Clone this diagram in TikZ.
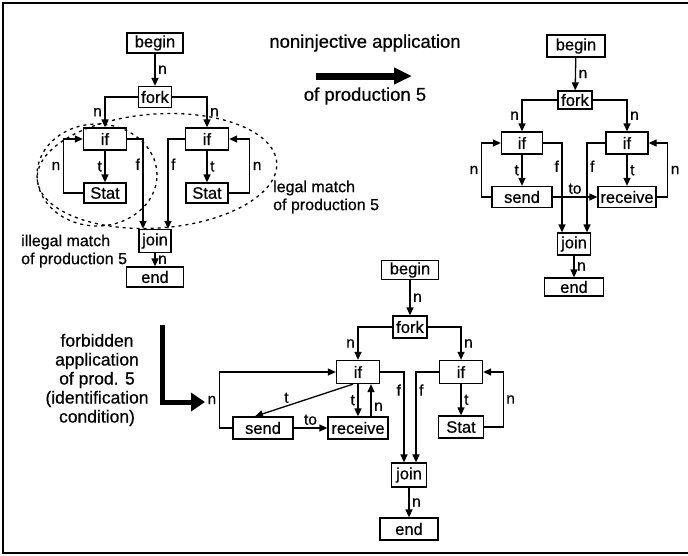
\documentclass[tikz,border=0pt]{standalone}
\usepackage{fontspec}
\setmainfont{Liberation Sans}[FakeBold=0.6]
\usetikzlibrary{arrows.meta}
\tikzset{
  cf box/.style={
    rectangle, draw=black, line width=1.3pt,
    minimum height=21pt, inner sep=1pt,
    font=\fontsize{16.5}{18}\selectfont
  },
  cf edge/.style={
    -{Triangle[length=8pt,width=7pt]}, line width=1.3pt
  },
  cf label/.style={
    font=\fontsize{15.5}{17}\selectfont, inner sep=2.5pt
  },
  cf note/.style={
    font=\fontsize{16}{18}\selectfont, inner sep=0pt
  },
  cf match/.style={
    dash pattern=on 3pt off 4pt, line width=1.3pt
  },
  cf big/.style={
    -{Triangle[length=18pt,width=16pt]}, line width=7pt
  }
}

\begin{document}
\begin{tikzpicture}[x=1pt, y=-1pt]
  \useasboundingbox (0,0) rectangle (688,555);
  \draw [line width=1.5pt] (688,3) -- (3,3) -- (3,553) -- (688,553);

  % Graph 1: two matches of production 5
  \node (beginA) [cf box, minimum width=56pt, minimum height=20pt] at (155,43) {begin};
  \node (forkA) [cf box, minimum width=33pt] at (155,97) {fork};
  \node (ifLA) [cf box, minimum width=43pt, minimum height=22pt] at (105,139) {if};
  \node (ifRA) [cf box, minimum width=43pt, minimum height=22pt] at (207,139) {if};
  \node (statLA) [cf box, minimum width=42pt, minimum height=20pt] at (105,193) {Stat};
  \node (statRA) [cf box, minimum width=42pt, minimum height=20pt] at (207,193) {Stat};
  \node (joinA) [cf box, minimum width=32pt, minimum height=23pt] at (155,241) {join};
  \node (endA) [cf box, minimum width=57pt, minimum height=20pt] at (155,277) {end};

  \draw [cf edge] (beginA) -- node[cf label, right] {n} (forkA);
  \draw [cf edge] (forkA.west) -| node[cf label, pos=0.75, left] {n} (ifLA.north);
  \draw [cf edge] (forkA.east) -| node[cf label, pos=0.75, right] {n} (ifRA.north);
  \draw [cf edge] (ifLA) -- node[cf label, left] {t} (statLA);
  \draw [cf edge] (ifRA) -- node[cf label, right] {t} (statRA);
  \draw [cf edge] (statLA.west) -- ++(-20,0) |- node[cf label, pos=0.25, left] {n} (ifLA.west);
  \draw [cf edge] (statRA.east) -- ++(21,0) |- node[cf label, pos=0.25, right] {n} (ifRA.east);
  \draw [cf edge] (ifLA.east) -| node[cf label, pos=0.64, left] {f} ([xshift=-12pt]joinA.north);
  \draw [cf edge] (ifRA.west) -| node[cf label, pos=0.64, right] {f} ([xshift=13pt]joinA.north);
  \draw [cf edge] (joinA) -- node[cf label, right] {n} (endA);

  \draw [cf match] (97,175) ellipse [x radius=60pt, y radius=51pt];
  \draw [cf match, rotate around={4:(157,171)}] (157,171) ellipse [x radius=120pt, y radius=57pt];
  \node (illegalA) [cf note, align=left, anchor=west] at (21,251) {illegal match\\of production 5};
  \node (legalA) [cf note, align=left, anchor=west] at (273,197) {legal match\\of production 5};

  % noninjective application
  \coordinate (apA) at (316,76);
  \coordinate (apB) at (412,76);
  \draw [cf big] (apA) -- (apB);
  \node (apTop) [cf note, font=\fontsize{18.5}{20}\selectfont] at (365,43) {noninjective application};
  \node (apBot) [cf note, font=\fontsize{18.5}{20}\selectfont] at (365,96) {of production 5};

  % Graph 2: result of the application
  \node (beginB) [cf box, minimum width=58pt, minimum height=22pt] at (576,46) {begin};
  \node (forkB) [cf box, minimum width=34pt, minimum height=18pt] at (575,100) {fork};
  \node (ifLB) [cf box, minimum width=41pt, minimum height=22pt] at (522,143) {if};
  \node (ifRB) [cf box, minimum width=42pt, minimum height=22pt] at (627,143) {if};
  \node (sendB) [cf box, minimum width=60pt] at (522,197) {send};
  \node (recvB) [cf box, minimum width=58pt] at (627,197) {receive};
  \node (joinB) [cf box, minimum width=33pt, minimum height=22pt] at (574,244) {join};
  \node (endB) [cf box, minimum width=59pt, minimum height=18pt] at (574,287) {end};

  \draw [cf edge] (beginB) -- node[cf label, right] {n} (forkB);
  \draw [cf edge] (forkB.west) -| node[cf label, pos=0.75, left] {n} (ifLB.north);
  \draw [cf edge] (forkB.east) -| node[cf label, pos=0.75, right] {n} (ifRB.north);
  \draw [cf edge] (ifLB) -- node[cf label, left] {t} (sendB);
  \draw [cf edge] (ifRB) -- node[cf label, right] {t} (recvB);
  \draw [cf edge] (sendB.west) -- ++(-10,0) |- node[cf label, pos=0.25, left] {n} (ifLB.west);
  \draw [cf edge] (recvB.east) -- ++(11,0) |- node[cf label, pos=0.25, right] {n} (ifRB.east);
  \draw [cf edge] (ifLB.east) -| node[cf label, pos=0.63, left] {f} ([xshift=-12pt]joinB.north);
  \draw [cf edge] (ifRB.west) -| node[cf label, pos=0.63, right] {f} ([xshift=13pt]joinB.north);
  \draw [cf edge] (sendB) -- node[cf label, above] {to} (recvB);
  \draw [cf edge] (joinB) -- node[cf label, right] {n} (endB);

  % forbidden application
  \coordinate (fbA) at (162,325);
  \coordinate (fbB) at (205,402);
  \draw [cf big, line width=5pt, -{Triangle[length=14pt,width=18pt]}] (fbA) |- (fbB);
  \node (fbText) [cf note, align=center, font=\fontsize{17.5}{19}\selectfont] at (97,380)
    {forbidden\\application\\of prod. 5\\(identification\\condition)};

  % Graph 3
  \node (beginC) [cf box, minimum width=57pt, minimum height=19pt] at (410,270) {begin};
  \node (forkC) [cf box, minimum width=34pt, minimum height=22pt] at (410,327) {fork};
  \node (ifLC) [cf box, minimum width=43pt, minimum height=23pt] at (358,372) {if};
  \node (ifRC) [cf box, minimum width=43pt, minimum height=23pt] at (461,372) {if};
  \node (sendC) [cf box, minimum width=60pt, minimum height=22pt] at (263,428) {send};
  \node (recvC) [cf box, minimum width=60pt, minimum height=22pt] at (358,428) {receive};
  \node (statC) [cf box, minimum width=45pt, minimum height=22pt] at (461,427) {Stat};
  \node (joinC) [cf box, minimum width=35pt, minimum height=24pt] at (409,475) {join};
  \node (endC) [cf box, minimum width=58pt, minimum height=22pt] at (409,529) {end};

  \draw [cf edge] (beginC) -- node[cf label, right] {n} (forkC);
  \draw [cf edge] (forkC.west) -| node[cf label, pos=0.75, left] {n} (ifLC.north);
  \draw [cf edge] (forkC.east) -| node[cf label, pos=0.75, right] {n} (ifRC.north);
  \draw [cf edge] (sendC.west) -- ++(-13,0) |- node[cf label, pos=0.25, left] {n} (ifLC.west);
  \draw [cf edge] ([xshift=-5pt]ifLC.south) -- node[cf label, pos=0.68, above] {t} ([xshift=-8pt]sendC.north);
  \draw [cf edge] (ifLC) -- node[cf label, left] {t} (recvC);
  \draw [cf edge] ([xshift=13pt]recvC.north) -- node[cf label, pos=0.3, right] {n} ([xshift=13pt]ifLC.south);
  \draw [cf edge] (sendC) -- node[cf label, above] {to} (recvC);
  \draw [cf edge] (ifLC.east) -| node[cf label, pos=0.6, left] {f} ([xshift=-5pt]joinC.north);
  \draw [cf edge] (ifRC.west) -| node[cf label, pos=0.6, right] {f} ([xshift=7pt]joinC.north);
  \draw [cf edge] (ifRC) -- node[cf label, right] {t} (statC);
  \draw [cf edge] (statC.east) -- ++(19,0) |- node[cf label, pos=0.25, right] {n} (ifRC.east);
  \draw [cf edge] (joinC) -- node[cf label, right] {n} (endC);
\end{tikzpicture}
\end{document}
